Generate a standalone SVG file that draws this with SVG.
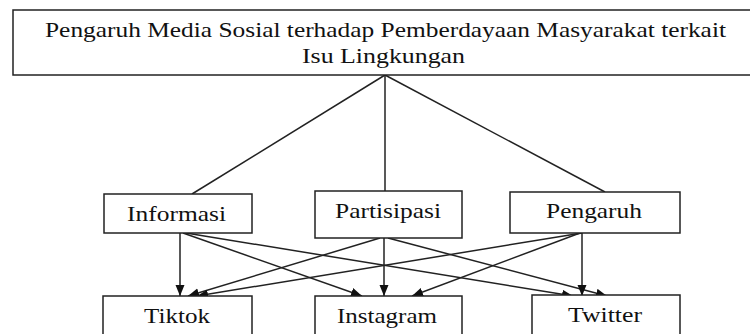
<svg xmlns="http://www.w3.org/2000/svg" width="750" height="334" viewBox="0 0 750 334">
<defs>
<style>
.box{fill:#fff;stroke:#222;stroke-width:1.5}
.ln{stroke:#222;stroke-width:1.5;fill:none}
.ar{stroke:#222;stroke-width:1.5;fill:none;marker-end:url(#ah)}
text{font-family:'Liberation Serif','Times New Roman',serif;font-size:22px;fill:#111}
.tt{font-size:21px}
</style>
<marker id="ah" markerUnits="userSpaceOnUse" markerWidth="12" markerHeight="10" refX="11" refY="4.5" orient="auto">
<path d="M0,0 L11,4.5 L0,9 z" fill="#111"/>
</marker>
</defs>
<rect width="750" height="334" fill="#fff"/>
<g id="connectors">
<line class="ln" x1="385" y1="75" x2="192" y2="194"/>
<line class="ln" x1="385" y1="75" x2="385" y2="191"/>
<line class="ln" x1="385" y1="75" x2="605" y2="192"/>
<line class="ar" x1="180" y1="233" x2="180" y2="296"/>
<line class="ar" x1="183" y1="233" x2="362" y2="296"/>
<line class="ar" x1="186" y1="233" x2="573" y2="296"/>
<line class="ar" x1="380" y1="238" x2="188" y2="296"/>
<line class="ar" x1="384" y1="238" x2="384" y2="296"/>
<line class="ar" x1="388" y1="238" x2="607" y2="296"/>
<line class="ar" x1="582" y1="233" x2="197" y2="296"/>
<line class="ar" x1="580" y1="233" x2="412" y2="296"/>
<line class="ar" x1="582" y1="233" x2="582" y2="296"/>
</g>
<g id="title">
<rect class="box" x="13" y="10" width="745" height="65"/>
<text class="tt" x="45" y="37" textLength="681" lengthAdjust="spacingAndGlyphs">Pengaruh Media Sosial terhadap Pemberdayaan Masyarakat terkait</text>
<text class="tt" x="302" y="63" textLength="163" lengthAdjust="spacingAndGlyphs">Isu Lingkungan</text>
</g>
<g id="informasi">
<rect class="box" x="104" y="194" width="148" height="39"/>
<text x="127" y="221" textLength="99" lengthAdjust="spacingAndGlyphs">Informasi</text>
</g>
<g id="partisipasi">
<rect class="box" x="315" y="191" width="147" height="47"/>
<text x="335" y="218" textLength="106" lengthAdjust="spacingAndGlyphs">Partisipasi</text>
</g>
<g id="pengaruh">
<rect class="box" x="510" y="192" width="170" height="41"/>
<text x="546" y="218" textLength="96" lengthAdjust="spacingAndGlyphs">Pengaruh</text>
</g>
<g id="tiktok">
<rect class="box" x="103" y="296" width="149" height="44"/>
<text x="144" y="323" textLength="66" lengthAdjust="spacingAndGlyphs">Tiktok</text>
</g>
<g id="instagram">
<rect class="box" x="315" y="296" width="147" height="44"/>
<text x="337" y="323" textLength="100" lengthAdjust="spacingAndGlyphs">Instagram</text>
</g>
<g id="twitter">
<rect class="box" x="532" y="295" width="148" height="45"/>
<text x="568" y="322" textLength="74" lengthAdjust="spacingAndGlyphs">Twitter</text>
</g>
</svg>
